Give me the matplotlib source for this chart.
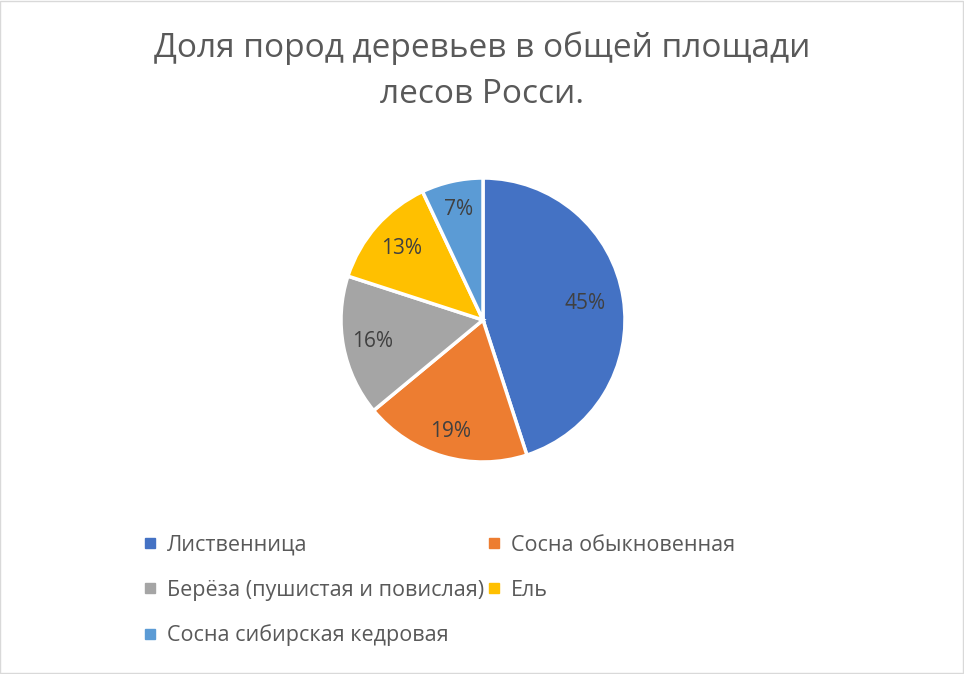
import numpy as np
import matplotlib.pyplot as plt
from matplotlib.lines import Line2D
from matplotlib.patches import Rectangle

plt.rcParams['font.family'] = ['Open Sans', 'DejaVu Sans']

# data
species = ["Лиственница", "Сосна обыкновенная", "Берёза (пушистая и повислая)",
           "Ель", "Сосна сибирская кедровая"]
shares = [45, 19, 16, 13, 7]
colors = ["#4472C4", "#ED7D31", "#A5A5A5", "#FFC000", "#5B9BD5"]
title = "Доля пород деревьев в общей площади\nлесов Росси."

W, H = 964, 674
fig = plt.figure(figsize=(W / 100, H / 100), dpi=100)

# pie axes: center (483, 320) px, radius 142 px
cx, cy, r = 483, 320, 142
ax = fig.add_axes([(cx - r) / W, (H - cy - r) / H, 2 * r / W, 2 * r / H])
wedges, texts, autotexts = ax.pie(
    shares, colors=colors, startangle=90, counterclock=False,
    autopct='%1.0f%%', pctdistance=0.78,
    wedgeprops=dict(edgecolor='white', linewidth=2.5),
    textprops=dict(color='#404040', fontsize=15))

# Excel-like label placement: a bit closer in for the big slice
label_dist = [0.73, 0.82, 0.79, 0.76, 0.80]
for w, t, d in zip(wedges, autotexts, label_dist):
    a = np.deg2rad((w.theta1 + w.theta2) / 2)
    t.set_position((d * np.cos(a), d * np.sin(a)))

ax.set_xlim(-1, 1)
ax.set_ylim(-1, 1)
ax.set_aspect('equal')
ax.axis('off')

fig.text(0.5, (H - 71) / H, title, ha='center', va='center',
         fontsize=24, color='#595959', linespacing=1.52)

# legend, rows filled left to right
order = [0, 2, 4, 1, 3]
handles = [Line2D([], [], marker='s', linestyle='none', markersize=6.5,
                  color=colors[i]) for i in order]
labels = [species[i] for i in order]
leg = fig.legend(handles, labels, ncol=2, loc='upper left',
                 bbox_to_anchor=(145 / W, 1 - 535 / H), frameon=False,
                 fontsize=15.5, labelcolor='#595959', handlelength=0.5,
                 handletextpad=0.5, columnspacing=0.25, labelspacing=1.1,
                 borderaxespad=0, borderpad=0)

fig.add_artist(Rectangle((0.0005, 0.0008), 0.998, 0.998, transform=fig.transFigure,
                         fill=False, edgecolor='#d9d9d9', linewidth=1))

fig.savefig('out.png', dpi=100, facecolor='white')
